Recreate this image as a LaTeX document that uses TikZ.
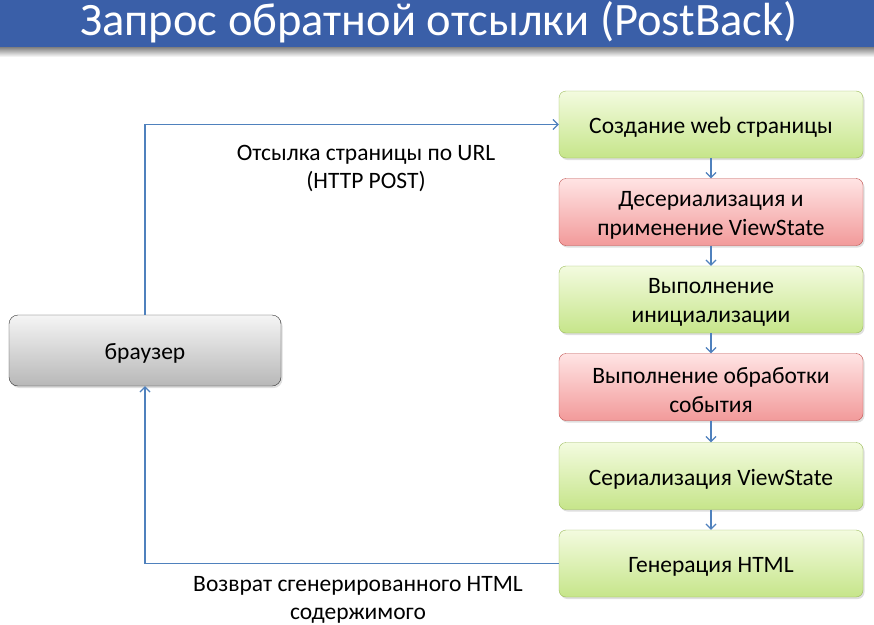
\documentclass[tikz,border=0pt]{standalone}
\usepackage{fontspec}
\setmainfont{Carlito}
\usetikzlibrary{arrows.meta,shadows,fadings}
\definecolor{titleblue}{HTML}{3A5FA8}
\definecolor{gtop}{HTML}{F3FBDF}
\definecolor{gbot}{HTML}{C6E58A}
\definecolor{gborder}{HTML}{9BBB59}
\definecolor{rtop}{HTML}{FFE4E4}
\definecolor{rbot}{HTML}{F29A9A}
\definecolor{rborder}{HTML}{C0504D}
\definecolor{arrowblue}{HTML}{4F81BD}
\tikzset{
  boxtext/.style={align=center, font=\fontsize{23.5}{29}\selectfont, inner sep=0pt, yshift=-3pt},
  box/.style={rounded corners=7pt, minimum width=304pt, minimum height=67pt, inner sep=0pt, drop shadow={shadow xshift=1.5pt, shadow yshift=-2pt, opacity=0.25}},
  greenbox/.style={box, draw=gborder, top color=gtop, bottom color=gbot},
  redbox/.style={box, draw=rborder, top color=rtop, bottom color=rbot},
  graybox/.style={rounded corners=9pt, minimum width=272pt, minimum height=71pt, inner sep=0pt, draw=black!80, top color=black!4, bottom color=black!28, drop shadow={shadow xshift=1.5pt, shadow yshift=-2pt, opacity=0.25}},
  conn/.style={draw=arrowblue, line width=1.2pt, -{Straight Barb[length=5pt,width=10pt]}},
  lbl/.style={align=center, font=\fontsize{23.5}{28}\selectfont, inner sep=0pt}
}
\begin{document}
\begin{tikzpicture}[x=1pt,y=-1pt]
\useasboundingbox (0,0) rectangle (874,624);
\fill[white] (0,0) rectangle (874,624);
% title shadow
\shade[top color=black!55, bottom color=white] (0,46) rectangle (874,57);
\fill[titleblue] (0,0) rectangle (874,47);
\node[text=white, font=\fontsize{46.5}{48}\selectfont, inner sep=0pt] (title) at (439,22) {Запрос обратной отсылки (PostBack)};
% right column
\node[greenbox, label={[boxtext]center:Создание web страницы}] (b1) at (711,124.5) {};
\node[redbox, label={[boxtext]center:{Десериализация и\\применение ViewState}}] (b2) at (711,212) {};
\node[greenbox, label={[boxtext]center:{Выполнение\\инициализации}}] (b3) at (711,299.5) {};
\node[redbox, label={[boxtext]center:{Выполнение обработки\\события}}] (b4) at (711,387) {};
\node[greenbox, label={[boxtext]center:Сериализация ViewState}] (b5) at (711,476) {};
\node[greenbox, label={[boxtext]center:Генерация HTML}] (b6) at (711,563.5) {};
% browser
\node[graybox, label={[boxtext]center:браузер}] (br) at (145,350.5) {};
% arrows
\draw[conn] (b1) -- (b2);
\draw[conn] (b2) -- (b3);
\draw[conn] (b3) -- (b4);
\draw[conn] (b4) -- (b5);
\draw[conn] (b5) -- (b6);
\draw[conn] (br.north) |- (b1.west);
\draw[conn] (b6.west) -| (br.south);
% labels
\node[lbl] (l1) at (366,168) {Отсылка страницы по URL\\(HTTP POST)};
\node[lbl] (l2) at (358,599.5) {Возврат сгенерированного HTML\\содержимого};
\end{tikzpicture}
\end{document}
